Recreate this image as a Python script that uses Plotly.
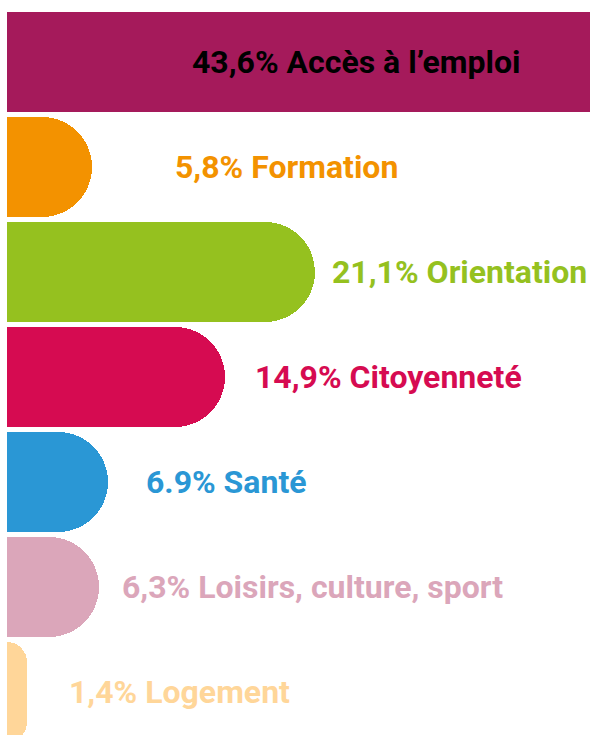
import plotly.graph_objects as go

categories = ["Accès à l’emploi", "Formation", "Orientation", "Citoyenneté",
              "Santé", "Loisirs, culture, sport", "Logement"]
values = [43.6, 5.8, 21.1, 14.9, 6.9, 6.3, 1.4]
value_labels = ["43,6%", "5,8%", "21,1%", "14,9%", "6.9%", "6,3%", "1,4%"]

bar_colors = ["#A51A5B", "#F39200", "#95C11F", "#D60B51", "#2A97D5", "#DBA6BA", "#FFD699"]
text_colors = ["#000000", "#F39200", "#95C11F", "#D60B51", "#2A97D5", "#DBA6BA", "#FFD699"]
label_x = [12.50, 11.40, 22.09, 16.82, 9.35, 7.71, 4.08]

ypos = list(range(len(categories)))

fig = go.Figure(go.Bar(
    x=values, y=ypos, orientation="h",
    marker=dict(color=bar_colors, cornerradius=50, line=dict(width=0)),
    width=100 / 105,
    hoverinfo="skip",
))

FONT = "Roboto, sans-serif"
for i, (v, lab, cat) in enumerate(zip(values, value_labels, categories)):
    fig.add_annotation(
        x=label_x[i], y=i, xref="x", yref="y",
        text=f"<b>{lab} {cat}</b>", showarrow=False,
        xanchor="left", yanchor="middle",
        font=dict(family=FONT, size=32, color=text_colors[i]),
    )

fig.update_layout(
    width=590, height=735,
    margin=dict(l=7, r=0, t=0, b=0),
    paper_bgcolor="white", plot_bgcolor="white",
    showlegend=False,
    xaxis=dict(range=[0, 583 / 14.6], visible=False, fixedrange=True),
    yaxis=dict(range=[-0.5905 + 735 / 105, -0.5905], visible=False, fixedrange=True),
    bargap=0,
)

fig.write_html("out.html", config={"displayModeBar": False},
               post_script="document.body.style.margin='0';document.body.style.overflow='hidden';")
